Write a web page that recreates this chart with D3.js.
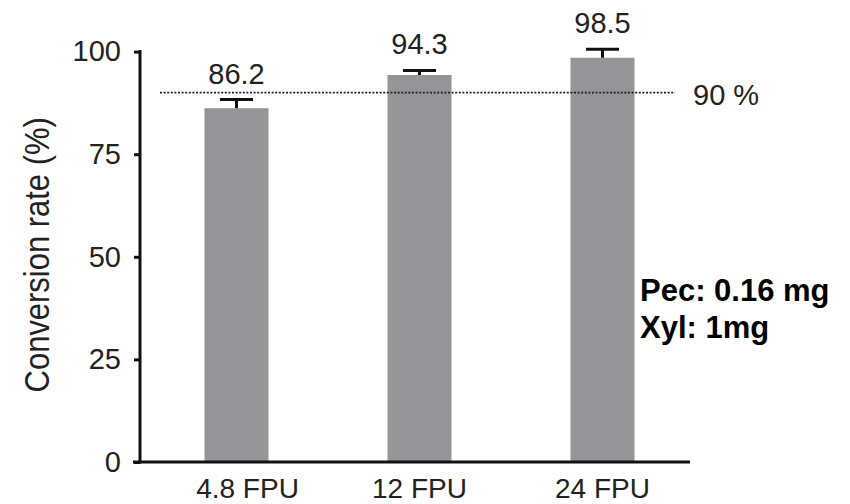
<!DOCTYPE html>
<html>
<head>
<meta charset="utf-8">
<script src="https://cdn.jsdelivr.net/npm/d3@7"></script>
<style>
  html, body { margin: 0; padding: 0; background: #fff; }
  svg { display: block; font-family: "Liberation Sans", Arial, Helvetica, sans-serif; }
</style>
</head>
<body>
<svg id="chart" width="850" height="504"></svg>
<script>
// Enzyme loading and measured conversion
const categories = ["4.8 FPU", "12 FPU", "24 FPU"];
const values = [86.2, 94.3, 98.5];
const errors = [2.1, 1.1, 2.1];
const yTicks = [0, 25, 50, 75, 100];
const threshold = 90;
const thresholdLabel = "90 %";
const yTitle = "Conversion rate (%)";
const noteLines = ["Pec: 0.16 mg", "Xyl: 1mg"];

const svg = d3.select("#chart");

const y = d3.scaleLinear().domain([0, 100]).range([462, 51.6]);
const x = d3.scaleBand()
  .domain(categories)
  .range([145, 694])
  .paddingInner(0.65)
  .paddingOuter(0.325);

const barColor = "#939598";

// bars
svg.append("g").selectAll("rect")
  .data(values)
  .join("rect")
  .attr("x", (d, i) => x(categories[i]))
  .attr("y", d => y(d))
  .attr("width", x.bandwidth())
  .attr("height", d => y(0) - y(d))
  .attr("fill", barColor);

// threshold line
svg.append("line")
  .attr("x1", 160).attr("x2", 675)
  .attr("y1", y(threshold)).attr("y2", y(threshold))
  .attr("stroke", "#222")
  .attr("stroke-width", 1.6)
  .attr("stroke-dasharray", "2,1.6");

svg.append("text")
  .attr("x", 693)
  .attr("y", y(threshold) + 12)
  .attr("font-size", 29)
  .attr("fill", "#222")
  .text(thresholdLabel);

// error bars (upper only)
const eb = svg.append("g").attr("stroke", "#111").attr("stroke-width", 3);
values.forEach((v, i) => {
  const cx = x(categories[i]) + x.bandwidth() / 2;
  eb.append("line")
    .attr("x1", cx).attr("x2", cx)
    .attr("y1", y(v)).attr("y2", y(v + errors[i]));
  eb.append("line")
    .attr("x1", cx - 16.5).attr("x2", cx + 16.5)
    .attr("y1", y(v + errors[i])).attr("y2", y(v + errors[i]));
});

// value labels
svg.append("g").selectAll("text")
  .data(values)
  .join("text")
  .attr("x", (d, i) => x(categories[i]) + x.bandwidth() / 2)
  .attr("y", (d, i) => y(d + errors[i]) - 16)
  .attr("text-anchor", "middle")
  .attr("font-size", 29)
  .attr("fill", "#222")
  .text(d => d.toFixed(1));

// y axis
const yAxis = svg.append("g")
  .attr("transform", "translate(140,0)")
  .call(d3.axisLeft(y).tickValues(yTicks).tickSize(6).tickPadding(13).tickFormat(d3.format("d")));
yAxis.select(".domain").remove();
yAxis.selectAll(".tick line").attr("stroke", "#111").attr("stroke-width", 3);
yAxis.selectAll(".tick text").attr("font-size", 29).attr("fill", "#222").attr("font-family", null);
yAxis.append("line")
  .attr("x1", 0).attr("x2", 0)
  .attr("y1", y(100) - 1.5).attr("y2", y(0) + 1.5)
  .attr("stroke", "#111").attr("stroke-width", 3);

// x axis
const xAxis = svg.append("g")
  .attr("transform", `translate(0,${y(0)})`)
  .call(d3.axisBottom(x).tickSize(0).tickPadding(16));
xAxis.select(".domain").remove();
xAxis.selectAll(".tick text").attr("font-size", 28).attr("fill", "#222").attr("font-family", null);
xAxis.selectAll(".tick text").filter((d, i) => i === 0).attr("dx", 11);
xAxis.append("line")
  .attr("x1", 133).attr("x2", 690)
  .attr("y1", 0).attr("y2", 0)
  .attr("stroke", "#111").attr("stroke-width", 3);

// y axis title, slightly narrowed
svg.append("text")
  .attr("transform", `translate(49,${y(50) - 2}) rotate(-90) scale(0.86,1)`)
  .attr("text-anchor", "middle")
  .attr("font-size", 36)
  .attr("fill", "#222")
  .text(yTitle);

// composition note
svg.append("g").selectAll("text")
  .data(noteLines)
  .join("text")
  .attr("x", 640)
  .attr("y", (d, i) => 301 + i * 37)
  .attr("font-size", 31)
  .attr("font-weight", "bold")
  .attr("fill", "#000")
  .text(d => d);
</script>
</body>
</html>
